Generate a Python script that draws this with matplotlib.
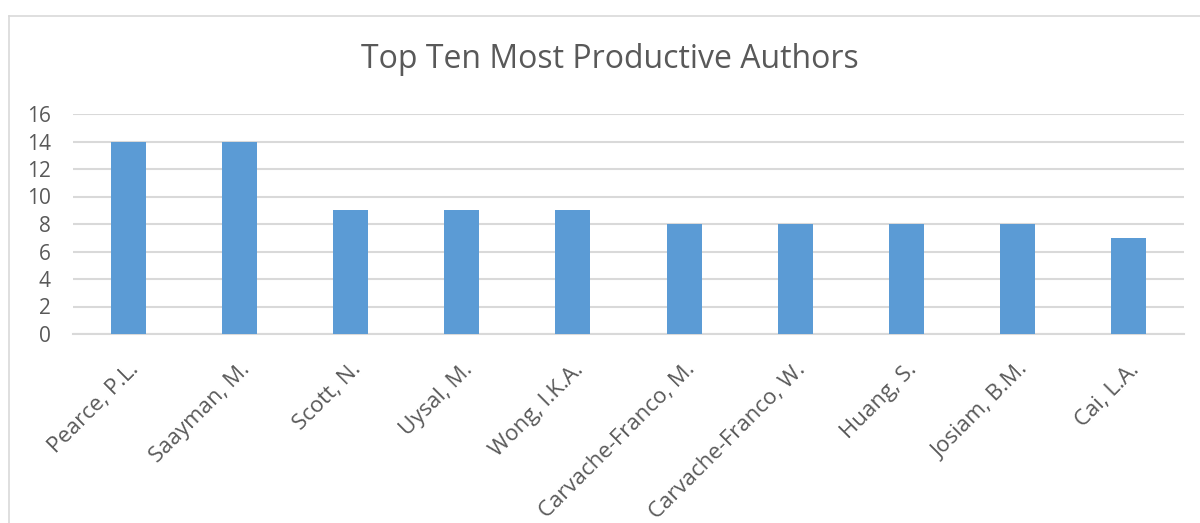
import matplotlib.pyplot as plt
from matplotlib.lines import Line2D

authors = ["Pearce, P.L.", "Saayman, M.", "Scott, N.", "Uysal, M.", "Wong, I.K.A.",
           "Carvache-Franco, M.", "Carvache-Franco, W.", "Huang, S.", "Josiam, B.M.", "Cai, L.A."]
counts = [14, 14, 9, 9, 9, 8, 8, 8, 8, 7]
yticks = [0, 2, 4, 6, 8, 10, 12, 14, 16]

plt.rcParams['font.family'] = ['Open Sans', 'DejaVu Sans']

W, H = 1200, 523
fig = plt.figure(figsize=(W / 100, H / 100), dpi=100)

# plot area in pixel coords
left, right, top, bottom = 73, 1184, 114, 334
ax = fig.add_axes([left / W, 1 - bottom / H, (right - left) / W, (bottom - top) / H])

x = range(len(authors))
ax.bar(x, counts, width=0.315, color="#5b9bd5", zorder=3)

ax.set_xlim(-0.5, len(authors) - 0.5)
ax.set_ylim(0, 16)
ax.set_yticks(yticks)
ax.set_yticklabels([str(v) for v in yticks], fontsize=15, color="#595959")
ax.set_xticks(list(x))
ax.set_xticklabels(authors, rotation=45, ha="right", va="top", rotation_mode="anchor",
                   fontsize=16, color="#595959")
ax.tick_params(axis="both", length=0)
ax.tick_params(axis="y", pad=16)
ax.tick_params(axis="x", pad=18)
ax.grid(axis="y", color="#d9d9d9", linewidth=1.5, zorder=0)
for s in ["top", "right", "left"]:
    ax.spines[s].set_visible(False)
ax.spines["bottom"].set_color("#d9d9d9")
ax.spines["bottom"].set_linewidth(1.5)

fig.text(610 / W, 1 - 60 / H, "Top Ten Most Productive Authors", ha="center", va="center",
         fontsize=23, color="#595959")

# outer chart frame (cut off at right and bottom)
fig.add_artist(Line2D([8.5 / W, 8.5 / W], [0, 1 - 15.5 / H], color="#d9d9d9", linewidth=1.2))
fig.add_artist(Line2D([8.5 / W, 1], [1 - 15.5 / H, 1 - 15.5 / H], color="#d9d9d9", linewidth=1.2))

fig.savefig("out.png", dpi=100)
